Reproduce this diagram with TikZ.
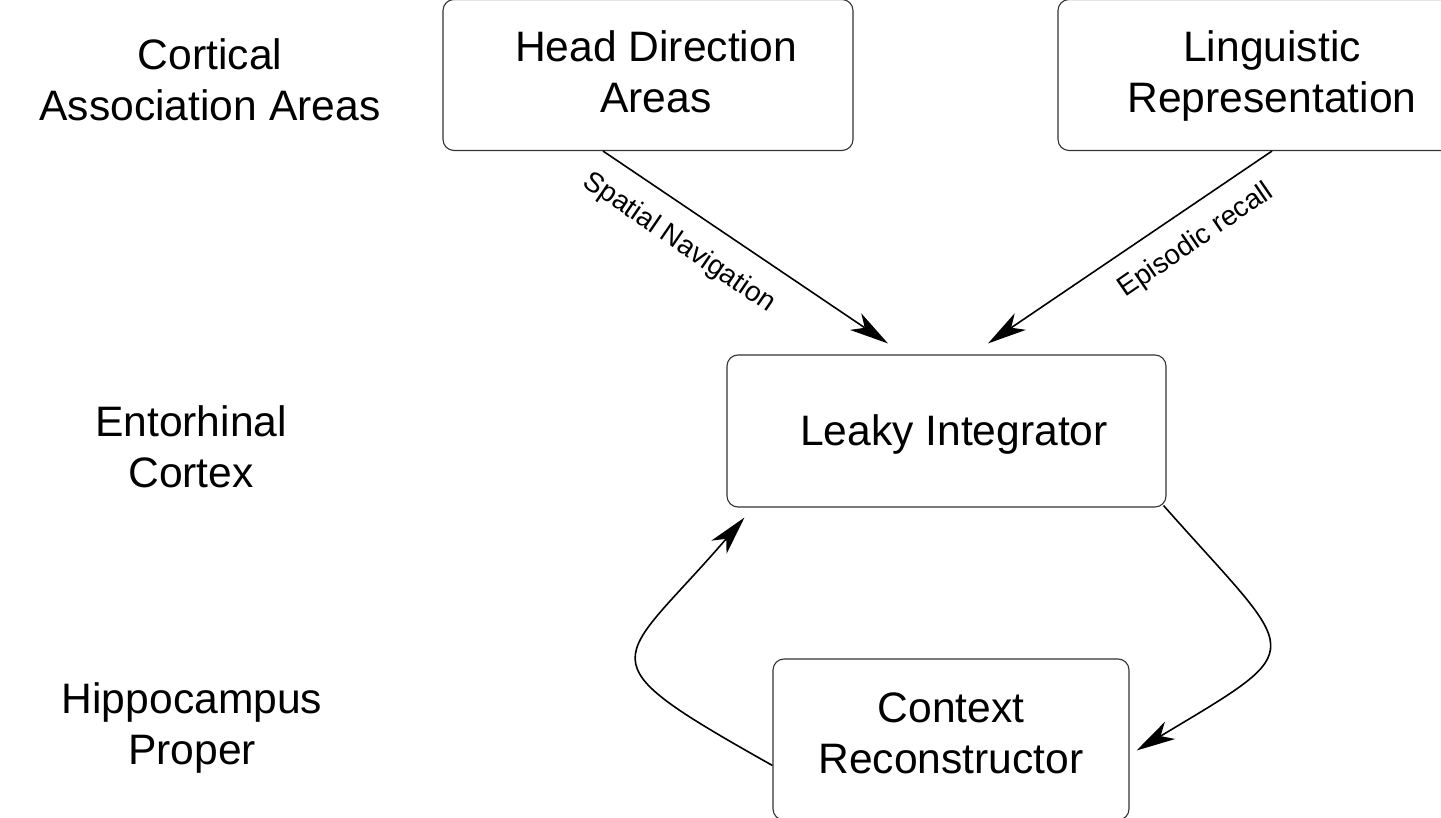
\documentclass[tikz,border=0pt]{standalone}
\usepackage{fontspec}
\setmainfont{Liberation Sans}
\usetikzlibrary{arrows.meta,calc}

\begin{document}
\begin{tikzpicture}[
    x=1pt, y=-1pt,
    box/.style={draw=black!80, line width=1.1pt, rounded corners=11pt,
                inner sep=0pt},
    layer/.style={align=center, font=\fontsize{42.6}{51}\selectfont, inner sep=0pt},
    edgelabel/.style={font=\fontsize{28}{33}\selectfont, inner sep=0pt},
    link/.style={line width=1.6pt,
                 -{Stealth[length=39pt,width=20pt,inset=11pt]}}
]
\useasboundingbox (0,0) rectangle (1441,818);

% layer captions on the left
\node[layer] (cortical) at (210,80)  {Cortical\\Association Areas};
\node[layer] (ento)     at (191,447) {Entorhinal\\Cortex};
\node[layer] (hippo)    at (192,728) {Hippocampus\\Proper};

% processing stages (frames)
\node[box, minimum width=410pt, minimum height=151pt] (hd) at (648,75) {};
\node[box, minimum width=428pt, minimum height=151pt] (lr) at (1272,75) {};
\node[box, minimum width=439pt, minimum height=152pt] (li) at (946.5,431) {};
\node[box, minimum width=356pt, minimum height=161pt] (cr) at (951,739.5) {};

% stage names
\node[layer] (hdtext) at ([shift={(8pt,3pt)}]hd.center) {Head Direction\\Areas};
\node[layer] (lrtext) at ([yshift=-1pt]lr.center) {Linguistic\\Representation};
\node[layer] (litext) at ([shift={(7.5pt,-3pt)}]li.center) {Leaky Integrator};
\node[layer] (crtext) at ([yshift=6pt]cr.center) {Context\\Reconstructor};

% connector end points
\coordinate (snA) at ([xshift=-45pt]hd.south);
\coordinate (snB) at ([shift={(-58.5pt,11pt)}]li.north);
\coordinate (erA) at (lr.south);
\coordinate (erB) at ([shift={(41.5pt,11pt)}]li.north);
\coordinate (fbA) at ([yshift=-26pt]cr.west);
\coordinate (fbB) at ([shift={(18pt,-10pt)}]li.south west);
\coordinate (ffA) at ([shift={(-3pt,2pt)}]li.south east);
\coordinate (ffB) at ([shift={(7pt,-11pt)}]cr.east);

% connectors
\draw[link] (snA) -- (snB);
\draw[link] (erA) -- (erB);
\draw[link] (fbA) .. controls (578,656) and (616,667) .. (fbB);
\draw[link] (ffA) .. controls (1300,660) and (1314,644) .. (ffB);

% connector labels
\node[edgelabel, rotate=-34.4] (snlabel) at (679,243) {Spatial Navigation};
\node[edgelabel, rotate=34.4]  (erlabel) at (1196,241) {Episodic recall};
\end{tikzpicture}
\end{document}
